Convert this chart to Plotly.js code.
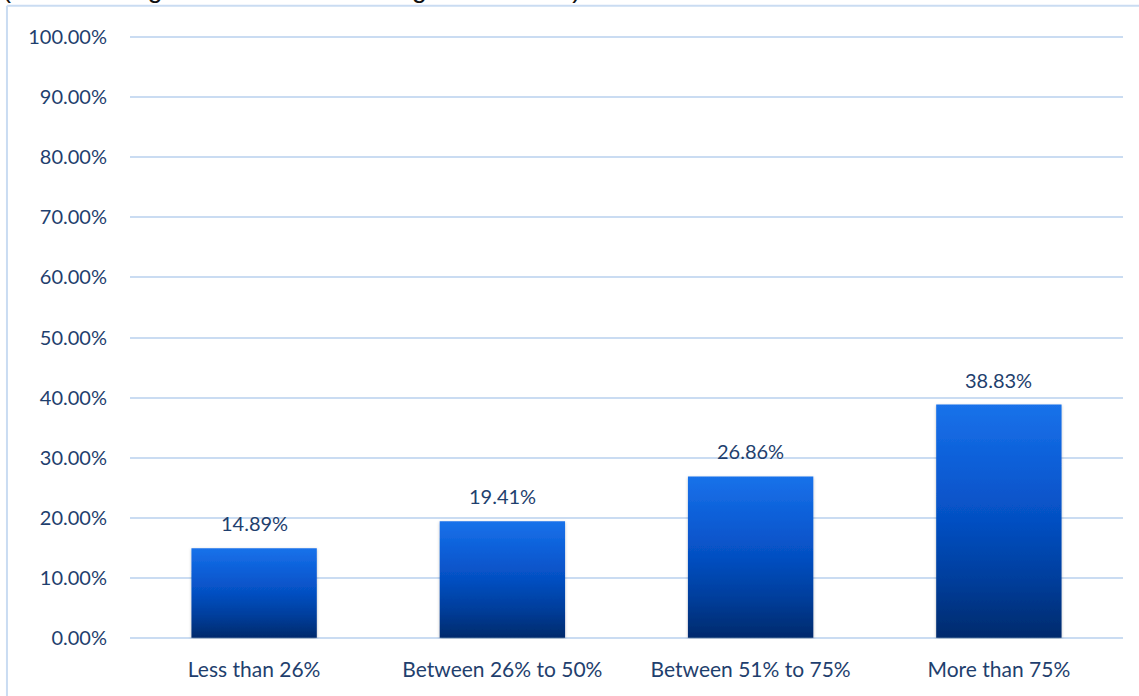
<!DOCTYPE html>
<html>
<head>
<meta charset="utf-8">
<script src="https://cdn.plot.ly/plotly-3.0.1.min.js"></script>
<style>
html,body{margin:0;padding:0;background:#fff;}
#chart{width:1139px;height:696px;}
</style>
</head>
<body>
<div id="chart"></div>
<script>
const categories = ["Less than 26%", "Between 26% to 50%", "Between 51% to 75%", "More than 75%"];
const values = [14.89, 19.41, 26.86, 38.83];
const valueLabels = ["14.89%", "19.41%", "26.86%", "38.83%"];
const tickValues = [0, 10, 20, 30, 40, 50, 60, 70, 80, 90, 100];
const tickLabels = ["0.00%", "10.00%", "20.00%", "30.00%", "40.00%", "50.00%", "60.00%", "70.00%", "80.00%", "90.00%", "100.00%"];
const titleText = "(not including administrative management costs)";

const textColor = "#1f3f6e";
const gridColor = "#cadcf2";
const fontFam = "Lato, 'Open Sans', sans-serif";

const trace = {
  type: "bar",
  x: categories,
  y: values,
  width: 0.505,
  marker: {color: "#0a4fc0", line: {width: 0}},
  hoverinfo: "none"
};

const annotations = categories.map((c, i) => ({
  x: c, y: values[i], xref: "x", yref: "y",
  text: valueLabels[i], showarrow: false,
  yanchor: "middle", yshift: 25,
  font: {family: fontFam, size: 20, color: textColor}
}));
annotations.push({
  xref: "paper", yref: "paper", x: -0.131, y: 1.051,
  xanchor: "left", yanchor: "bottom",
  text: titleText, showarrow: false,
  font: {family: "'Liberation Sans', Arial, sans-serif", size: 27, color: "#111"}
});

const layout = {
  width: 1139, height: 696,
  margin: {l: 130, r: 16, t: 36, b: 57},
  paper_bgcolor: "#fff", plot_bgcolor: "#fff",
  showlegend: false,
  xaxis: {
    showgrid: false, zeroline: false, showline: false,
    ticks: "", ticklabelstandoff: 16,
    tickfont: {family: fontFam, size: 21, color: textColor}
  },
  yaxis: {
    range: [-0.2, 100.2], tickvals: tickValues, ticktext: tickLabels,
    showgrid: true, gridcolor: gridColor, gridwidth: 2,
    zeroline: false, showline: false, ticks: "",
    ticklabelstandoff: 22,
    tickfont: {family: fontFam, size: 20, color: textColor}
  },
  annotations: annotations,
  shapes: [
    {type: "line", xref: "paper", yref: "paper", x0: -0.1239, x1: -0.1239, y0: 1.05, y1: -0.2, line: {color: gridColor, width: 2}},
    {type: "line", xref: "paper", yref: "paper", x0: -0.1239, x1: 1.03, y0: 1.05, y1: 1.05, line: {color: gridColor, width: 2}}
  ]
};

Plotly.newPlot("chart", [trace], layout, {displayModeBar: false, staticPlot: true}).then(() => {
  const svg = document.querySelector("#chart .main-svg");
  const ns = "http://www.w3.org/2000/svg";
  let defs = svg.querySelector("defs");
  if (!defs) { defs = document.createElementNS(ns, "defs"); svg.insertBefore(defs, svg.firstChild); }
  const grad = document.createElementNS(ns, "linearGradient");
  grad.setAttribute("id", "barGrad");
  grad.setAttribute("x1", "0"); grad.setAttribute("y1", "0");
  grad.setAttribute("x2", "0"); grad.setAttribute("y2", "1");
  [["0", "#1a72ea"], ["0.25", "#0c5fd8"], ["0.5", "#054fc2"], ["0.75", "#033e9c"], ["1", "#002a6c"]].forEach(([o, c]) => {
    const s = document.createElementNS(ns, "stop");
    s.setAttribute("offset", o); s.setAttribute("stop-color", c);
    grad.appendChild(s);
  });
  defs.appendChild(grad);
  const filt = document.createElementNS(ns, "filter");
  filt.setAttribute("id", "barShadow");
  filt.setAttribute("x", "-10%"); filt.setAttribute("y", "-10%");
  filt.setAttribute("width", "120%"); filt.setAttribute("height", "120%");
  const ds = document.createElementNS(ns, "feDropShadow");
  ds.setAttribute("dx", "0"); ds.setAttribute("dy", "1");
  ds.setAttribute("stdDeviation", "1.5");
  ds.setAttribute("flood-color", "#000"); ds.setAttribute("flood-opacity", "0.25");
  filt.appendChild(ds);
  defs.appendChild(filt);
  document.querySelectorAll("#chart .bars .point path").forEach(p => {
    p.style.fill = "url(#barGrad)";
    p.setAttribute("filter", "url(#barShadow)");
  });
});
</script>
</body>
</html>
